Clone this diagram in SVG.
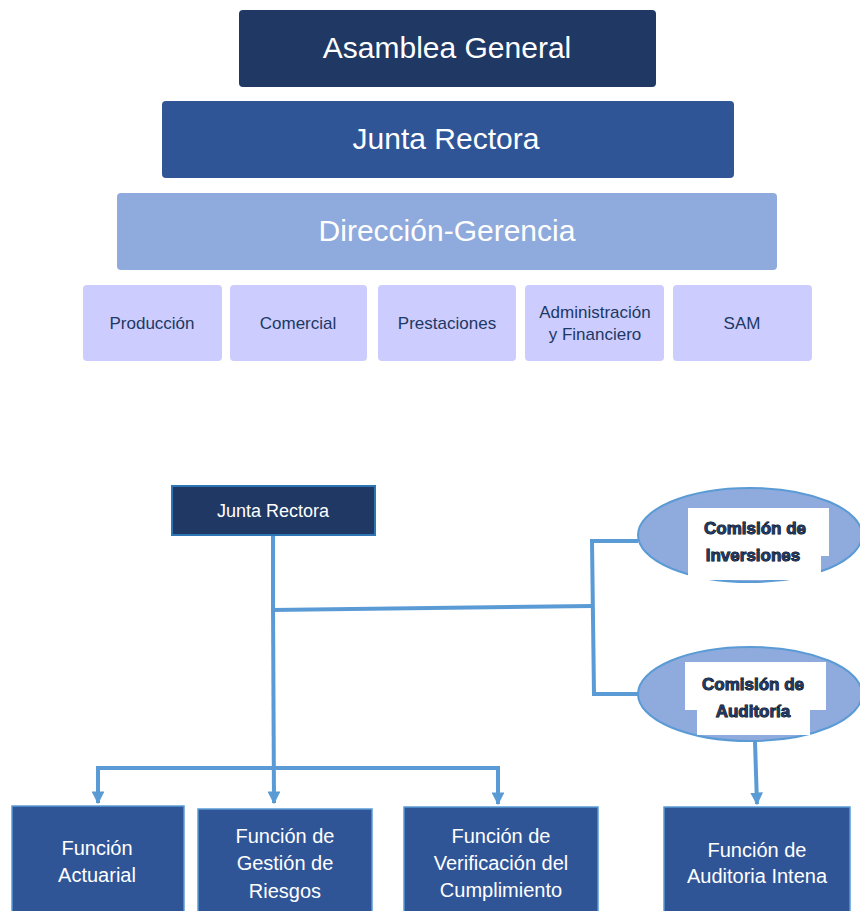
<svg xmlns="http://www.w3.org/2000/svg" width="860" height="911" viewBox="0 0 860 911">
<style>
text{font-family:"Liberation Sans",Arial,sans-serif;text-anchor:middle}
.w{fill:#ffffff}
.sub{fill:#CCCCFF}
.subt{fill:#203864;font-size:17px}
.bot{fill:#2F5597;stroke:#5B9BD5;stroke-width:1.5}
.bt{fill:#ffffff;font-size:20px}
.con{fill:none;stroke:#5B9BD5;stroke-width:4}
.com{fill:#1F3864;stroke:#000;stroke-width:0.9;font-size:17px;font-weight:bold;paint-order:stroke}
</style>
<defs>
<marker id="ah" viewBox="0 0 10 10" refX="9" refY="5" markerWidth="3.2" markerHeight="3.2" orient="auto" markerUnits="strokeWidth">
<path d="M0,0 L10,5 L0,10 z" fill="#5B9BD5"/>
</marker>
</defs>
<rect width="860" height="911" fill="#ffffff"/>

<g id="asamblea">
<rect x="239" y="10" width="417" height="77" rx="4" fill="#203864"/>
<text x="447" y="58" class="w" font-size="30">Asamblea General</text>
</g>
<g id="junta-top">
<rect x="162" y="101" width="572" height="77" rx="4" fill="#2F5597"/>
<text x="446" y="149" class="w" font-size="30">Junta Rectora</text>
</g>
<g id="direccion">
<rect x="117" y="193" width="660" height="77" rx="4" fill="#8FAADC"/>
<text x="447" y="241" class="w" font-size="30">Dirección-Gerencia</text>
</g>

<g id="produccion"><rect x="83" y="285" width="139" height="76" rx="4" class="sub"/><text x="152" y="329" class="subt">Producción</text></g>
<g id="comercial"><rect x="230" y="285" width="137" height="76" rx="4" class="sub"/><text x="298" y="329" class="subt">Comercial</text></g>
<g id="prestaciones"><rect x="378" y="285" width="138" height="76" rx="4" class="sub"/><text x="447" y="329" class="subt">Prestaciones</text></g>
<g id="administracion"><rect x="525" y="285" width="139" height="76" rx="4" class="sub"/><text x="595" y="318" class="subt">Administración</text><text x="595" y="340" class="subt">y Financiero</text></g>
<g id="sam"><rect x="673" y="285" width="139" height="76" rx="4" class="sub"/><text x="742" y="329" class="subt">SAM</text></g>

<g id="connectors">
<polyline class="con" points="273,535 273,610 592,606"/>
<polyline class="con" points="638,541 592,541 594,694 638,694"/>
<line class="con" x1="273" y1="600" x2="274" y2="803" marker-end="url(#ah)"/>
<polyline class="con" points="98,803 98,768 498,768 498,804" marker-end="url(#ah)"/>
<line class="con" x1="98" y1="770" x2="98" y2="803" marker-end="url(#ah)"/>
<line class="con" x1="755" y1="742" x2="757" y2="804" marker-end="url(#ah)"/>
</g>

<g id="junta-bottom">
<rect x="172" y="486" width="203" height="49" fill="#203864" stroke="#2E75B6" stroke-width="2"/>
<text x="273" y="517" class="w" font-size="18">Junta Rectora</text>
</g>

<g id="comision-inversiones">
<ellipse cx="750" cy="535" rx="112" ry="47" fill="#8FAADC" stroke="#5B9BD5" stroke-width="2"/>
<rect x="688" y="508" width="141" height="48" fill="#ffffff"/>
<rect x="688" y="550" width="133" height="30" fill="#ffffff"/>
<text x="755" y="534" class="com">Comisión de</text>
<text x="753" y="561" class="com">Inversiones</text>
</g>

<g id="comision-auditoria">
<ellipse cx="750" cy="694" rx="112" ry="47" fill="#8FAADC" stroke="#5B9BD5" stroke-width="2"/>
<rect x="685" y="662" width="141" height="48" fill="#ffffff"/>
<rect x="697" y="705" width="113" height="30" fill="#ffffff"/>
<text x="753" y="690" class="com">Comisión de</text>
<text x="753" y="717" class="com">Auditoría</text>
</g>

<g id="actuarial"><rect x="12" y="806" width="172" height="110" class="bot"/><text x="97" y="855" class="bt">Función</text><text x="97" y="882" class="bt">Actuarial</text></g>
<g id="riesgos"><rect x="198" y="809" width="174" height="110" class="bot"/><text x="285" y="843" class="bt">Función de</text><text x="285" y="870" class="bt">Gestión de</text><text x="285" y="898" class="bt">Riesgos</text></g>
<g id="verificacion"><rect x="404" y="807" width="194" height="110" class="bot"/><text x="501" y="843" class="bt">Función de</text><text x="501" y="870" class="bt">Verificación del</text><text x="501" y="897" class="bt">Cumplimiento</text></g>
<g id="auditoria-interna"><rect x="664" y="807" width="186" height="110" class="bot"/><text x="757" y="857" class="bt">Función de</text><text x="757" y="883" class="bt">Auditoria Intena</text></g>
</svg>
